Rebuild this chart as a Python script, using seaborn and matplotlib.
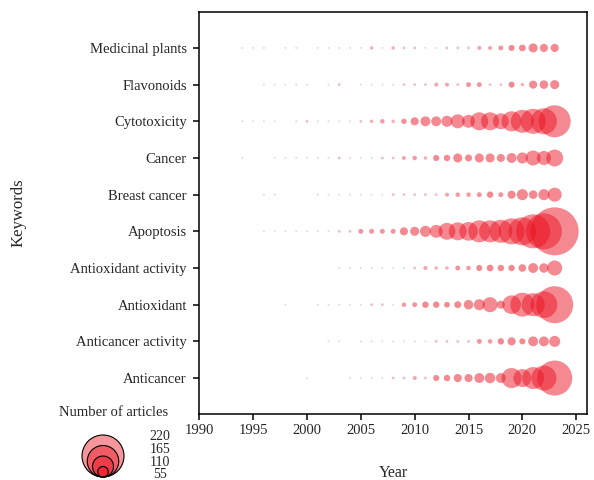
import numpy as np
import pandas as pd
import matplotlib.pyplot as plt
import matplotlib.colors as mcolors
from matplotlib.patches import Circle
import seaborn as sns

# data: number of articles per keyword and year (1994-2023), 0 = no article
years = list(range(1994, 2024))
keywords = ['Anticancer', 'Anticancer activity', 'Antioxidant', 'Antioxidant activity',
            'Apoptosis', 'Breast cancer', 'Cancer', 'Cytotoxicity', 'Flavonoids',
            'Medicinal plants']

anticancer = [0, 0, 0, 0, 0, 0, 1, 0, 0, 0, 1, 1, 1, 1, 2, 2, 4, 2, 9, 10, 16, 16, 24, 27, 24, 98, 79, 118, 153, 300]
anticancer_activity = [0, 0, 0, 0, 0, 0, 0, 0, 1, 1, 0, 1, 1, 1, 1, 1, 1, 1, 2, 2, 2, 2, 6, 5, 10, 16, 9, 24, 24, 30]
antioxidant = [0, 0, 0, 0, 1, 0, 0, 1, 1, 1, 1, 1, 2, 2, 1, 5, 6, 10, 10, 8, 12, 22, 30, 55, 16, 85, 140, 130, 175, 334]
antioxidant_activity = [0, 0, 0, 0, 0, 0, 0, 0, 0, 1, 1, 1, 1, 1, 1, 1, 2, 4, 3, 3, 6, 5, 9, 11, 10, 10, 14, 24, 22, 55]
apoptosis = [0, 0, 1, 1, 1, 1, 1, 1, 1, 2, 2, 6, 6, 6, 6, 16, 20, 30, 41, 70, 79, 85, 118, 118, 129, 165, 191, 282, 316, 562]
breast_cancer = [0, 0, 1, 1, 0, 0, 0, 1, 1, 1, 1, 1, 1, 1, 2, 2, 2, 2, 2, 4, 5, 5, 6, 10, 6, 16, 30, 18, 30, 48]
cancer = [1, 0, 0, 1, 1, 1, 1, 1, 1, 2, 1, 1, 1, 2, 2, 4, 5, 3, 9, 10, 20, 12, 20, 20, 16, 24, 30, 55, 48, 70]
cytotoxicity = [1, 1, 1, 1, 0, 1, 2, 1, 1, 1, 1, 2, 3, 5, 3, 7, 16, 24, 24, 30, 48, 41, 79, 79, 62, 98, 129, 153, 165, 250]
flavonoids = [0, 0, 1, 1, 1, 1, 1, 0, 1, 2, 0, 1, 1, 1, 1, 2, 2, 2, 4, 4, 2, 6, 6, 2, 2, 9, 3, 16, 18, 20]
medicinal_plants = [1, 1, 1, 0, 1, 1, 0, 1, 1, 1, 1, 1, 3, 1, 3, 2, 2, 1, 1, 2, 2, 2, 4, 4, 6, 9, 11, 20, 16, 16]

legend_values = [220, 165, 110, 55]
x_ticks = [1990, 1995, 2000, 2005, 2010, 2015, 2020, 2025]

series = [anticancer, anticancer_activity, antioxidant, antioxidant_activity, apoptosis,
          breast_cancer, cancer, cytotoxicity, flavonoids, medicinal_plants]

rows = []
for kw, vals in zip(keywords, series):
    for yr, v in zip(years, vals):
        if v > 0:
            rows.append({'Year': yr, 'Keywords': kw, 'articles': v})
df = pd.DataFrame(rows)

sns.set_style('white')
plt.rcParams['font.family'] = ['Liberation Serif', 'DejaVu Serif']

fig = plt.figure(figsize=(5.94, 4.8), dpi=100)
ax = fig.add_axes([0.3355, 0.1375, 0.6527, 0.8375])

cmap = mcolors.LinearSegmentedColormap.from_list(
    'grey_red', [(0.72, 0.70, 0.72, 0.45), (0.92, 0.40, 0.46, 0.5), (0.92, 0.08, 0.14, 0.5)])

pt_per_article = 2.12
sns.scatterplot(data=df, x='Year', y='Keywords', size='articles', hue='articles',
                palette=cmap, hue_norm=mcolors.LogNorm(vmin=1, vmax=8),
                sizes=(0, pt_per_article * 600), size_norm=(0, 600),
                linewidth=0, legend=False, ax=ax)

ax.set_xlim(1990, 2026)
ax.set_ylim(-0.98, 9.98)
ax.set_xticks(x_ticks)
ax.tick_params(axis='both', direction='out', length=4, width=1.1, color='black',
               labelsize=10.5, bottom=True, left=True)
ax.tick_params(axis='y', pad=5)
ax.tick_params(axis='x', pad=3)
for sp in ax.spines.values():
    sp.set_visible(True)
    sp.set_color('black')
    sp.set_linewidth(1.1)

ax.set_xlabel('Year', fontsize=11.5)
ax.set_ylabel('Keywords', fontsize=12)
ax.xaxis.set_label_coords(0.5, -0.128)
ax.yaxis.set_label_coords(-0.445, 0.5)

# size legend
fig.text(114 / 594, 1 - 412 / 480, 'Number of articles', fontsize=10.5, ha='center', va='center')
lax = fig.add_axes([80 / 594, 1 / 480, 46 / 594, 46 / 480])
lax.set_xlim(0, 46)
lax.set_ylim(0, 46)
lax.axis('off')
for v in legend_values:
    r = 21 * v / 220
    lax.add_patch(Circle((23, 2 + r), r, facecolor=(0.92, 0.09, 0.14, 0.45),
                         edgecolor='black', linewidth=0.8))
for i, v in enumerate(legend_values):
    fig.text(160 / 594, 1 - (437 + i * 12.5) / 480, str(v), fontsize=10,
             ha='center', va='center')

fig.savefig('out.png', dpi=100)
